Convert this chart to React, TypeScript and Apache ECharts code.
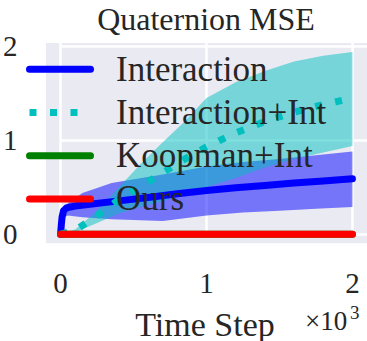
import React, { useEffect, useRef } from "react";
import * as echarts from "echarts";

// ---- data ----
const seriesNames = ["Interaction", "Interaction+Int", "Koopman+Int", "Ours"];

const interactionX = [0, 5, 10, 20, 40, 100, 200, 400, 600, 800, 1000, 1200, 1400, 1600, 1800, 2000];
const interactionMean = [0, 0.1, 0.18, 0.25, 0.28, 0.3, 0.32, 0.355, 0.39, 0.43, 0.465, 0.495, 0.52, 0.545, 0.567, 0.59];

const interactionBandX = [0, 20, 50, 150, 350, 700, 1000, 1250, 1500, 1750, 2000];
const interactionLow = [0, 0.18, 0.2, 0.18, 0.16, 0.14, 0.2, 0.23, 0.25, 0.27, 0.29];
const interactionHigh = [0, 0.28, 0.33, 0.44, 0.545, 0.635, 0.72, 0.77, 0.8, 0.84, 0.88];

const interIntX = [0, 100, 250, 400, 550, 700, 850, 1000, 1200, 1400, 1600, 1800, 2000];
const interIntMean = [0, 0.04, 0.2, 0.37, 0.51, 0.655, 0.8, 0.93, 1.08, 1.2, 1.3, 1.38, 1.45];
const interIntLow = [0, 0.02, 0.12, 0.22, 0.29, 0.35, 0.43, 0.5, 0.6, 0.71, 0.8, 0.87, 0.94];
const interIntHigh = [0, 0.05, 0.25, 0.5, 0.75, 0.98, 1.2, 1.45, 1.62, 1.74, 1.84, 1.9, 1.94];

const koopmanX = [0, 2000];
const koopmanMean = [0, 0];

const oursX = [0, 2000];
const oursMean = [0, 0];

const xTicks = [0, 1000, 2000];
const yTicks = [0, 1, 2];

const FONT = '"Liberation Serif", "Times New Roman", serif';
const TXT = "#262626";

const zip = (xs: number[], ys: number[]) => xs.map((x, i) => [x, ys[i]]);

function bandSeries(xs: number[], lo: number[], hi: number[], color: string, name: string) {
  return {
    type: "custom",
    name,
    silent: true,
    z: 1,
    data: [[xs[0], lo[0]]],
    renderItem: (_params: any, api: any) => {
      const upper = xs.map((x, i) => api.coord([x, hi[i]]));
      const lower = xs.map((x, i) => api.coord([x, lo[i]])).reverse();
      return {
        type: "polygon",
        shape: { points: upper.concat(lower) },
        style: { fill: color, opacity: 0.5, stroke: "none" },
      };
    },
  };
}

function lineSeries(name: string, xs: number[], ys: number[], color: string, dotted = false) {
  return {
    type: "line",
    name,
    z: 3,
    data: zip(xs, ys),
    symbol: "none",
    showSymbol: false,
    smooth: false,
    lineStyle: {
      color,
      width: 7,
      type: dotted ? [7, 13.5] : "solid",
      cap: dotted ? "butt" : "round",
      join: "round",
    },
    itemStyle: { color },
  };
}

export default function App() {
  const ref = useRef<HTMLDivElement>(null);
  useEffect(() => {
    if (!ref.current) return;
    const chart = echarts.init(ref.current, undefined, { renderer: "svg" });
    const gridLeft = 43.4;
    const gridTop = 43;
    const gridW = 325.4;
    const gridH = 200.3;
    const legendFont = 35;
    chart.setOption({
      animation: false,
      backgroundColor: "#ffffff",
      grid: {
        left: gridLeft,
        top: gridTop,
        width: gridW,
        height: gridH,
        show: true,
        backgroundColor: "#eaeaf2",
        borderWidth: 0,
      },
      xAxis: {
        type: "value",
        min: -100,
        max: 2100,
        axisLine: { show: false },
        splitLine: { show: false },
        axisTick: {
          show: true,
          inside: true,
          length: gridH,
          customValues: xTicks,
          lineStyle: { color: "#ffffff", width: 2.5 },
        },
        axisLabel: {
          customValues: xTicks,
          formatter: (v: number) => String(Math.round(v / 1000)),
          fontFamily: FONT,
          fontSize: 29,
          color: TXT,
          margin: 25,
        },
      },
      yAxis: {
        type: "value",
        min: -0.097,
        max: 2.037,
        axisLine: { show: false },
        splitLine: { show: false },
        axisTick: {
          show: true,
          inside: true,
          length: gridW,
          customValues: yTicks,
          lineStyle: { color: "#ffffff", width: 2.5 },
        },
        axisLabel: {
          customValues: yTicks,
          formatter: (v: number) => String(Math.round(v)),
          fontFamily: FONT,
          fontSize: 29,
          color: TXT,
          margin: 28.5,
        },
      },
      legend: {
        data: seriesNames,
        orient: "vertical",
        left: 26,
        top: 69.3 - legendFont / 2,
        padding: 0,
        itemWidth: 61,
        itemHeight: 14,
        itemGap: 43.2 - legendFont,
        selectedMode: false,
        lineStyle: { width: 7 },
        itemStyle: { opacity: 0 },
        textStyle: {
          fontFamily: FONT,
          fontSize: legendFont,
          lineHeight: legendFont,
          color: TXT,
          padding: [0, 0, 0, 20.5],
        },
      },
      graphic: [
        {
          type: "text",
          x: 206,
          y: 18.5,
          style: { text: "Quaternion MSE", fontFamily: FONT, fontSize: 32, fill: TXT, align: "center", verticalAlign: "middle" },
        },
        {
          type: "text",
          x: 205,
          y: 324,
          style: { text: "Time Step", fontFamily: FONT, fontSize: 34, fill: TXT, align: "center", verticalAlign: "middle" },
        },
        {
          type: "text",
          x: 305,
          y: 321,
          style: { text: "×10", fontFamily: FONT, fontSize: 27, fill: TXT, align: "left", verticalAlign: "middle" },
        },
        {
          type: "text",
          x: 350,
          y: 312,
          style: { text: "3", fontFamily: FONT, fontSize: 19, fill: TXT, align: "left", verticalAlign: "middle" },
        },
      ],
      series: [
        bandSeries(interactionBandX, interactionLow, interactionHigh, "#0000ff", "band-interaction"),
        bandSeries(interIntX, interIntLow, interIntHigh, "#00bfbf", "band-interaction-int"),
        lineSeries(seriesNames[0], interactionX, interactionMean, "#0000ff"),
        lineSeries(seriesNames[1], interIntX, interIntMean, "#00bfbf", true),
        lineSeries(seriesNames[2], koopmanX, koopmanMean, "#008000"),
        lineSeries(seriesNames[3], oursX, oursMean, "#ff0000"),
      ],
    });
    return () => chart.dispose();
  }, []);
  return (
    <div
      ref={ref}
      style={{ position: "fixed", left: 0, top: 0, width: 367, height: 341 }}
    />
  );
}
